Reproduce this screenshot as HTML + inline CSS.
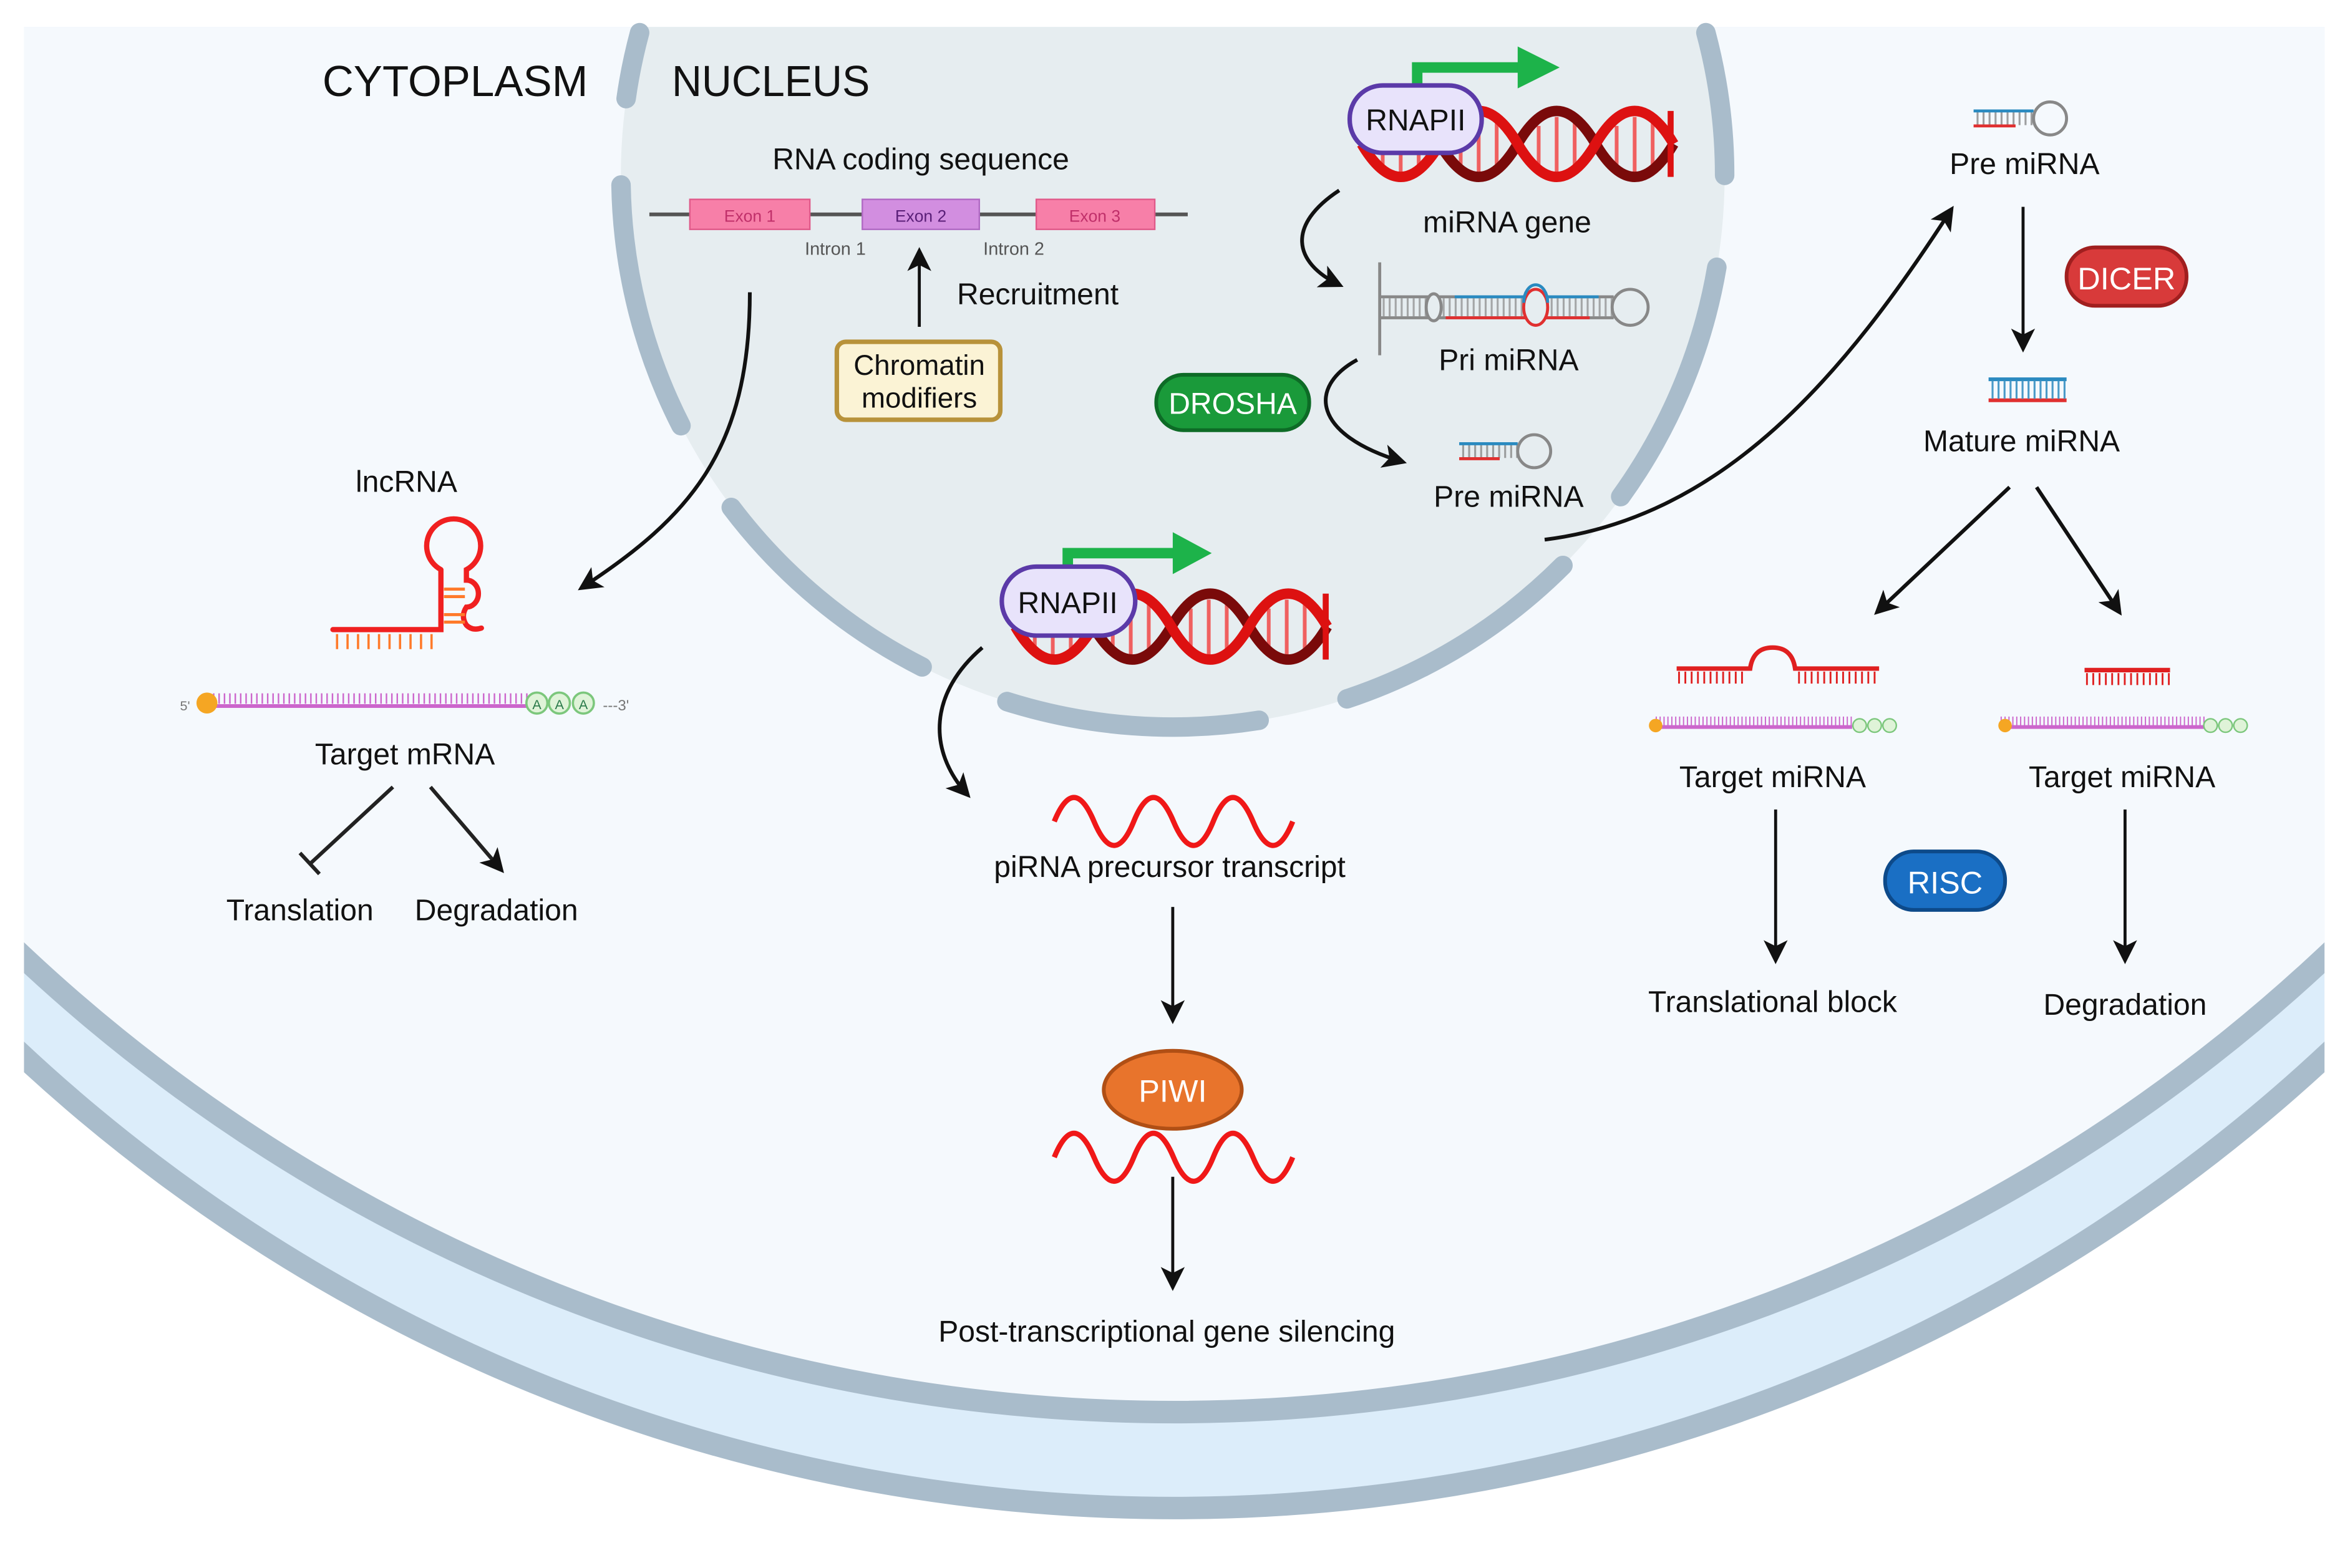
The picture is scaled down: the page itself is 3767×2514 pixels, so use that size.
<!DOCTYPE html>
<html><head><meta charset="utf-8"><style>
html,body{margin:0;padding:0;background:#fff;}
svg{display:block;}
text{font-family:"Liberation Sans",sans-serif;fill:#111;}
</style></head><body>
<svg width="3767" height="2514" viewBox="0 0 1567 1046" preserveAspectRatio="none" xmlns="http://www.w3.org/2000/svg">
<defs>
<clipPath id="cell"><rect x="16" y="18" width="1534" height="1030"/></clipPath>
<marker id="ah" viewBox="0 0 10 10" refX="8" refY="5" markerWidth="16" markerHeight="16" markerUnits="userSpaceOnUse" orient="auto"><path d="M0,0 L10,5 L0,10 L2.5,5 Z" fill="#111"/></marker>
</defs>
<rect width="1567" height="1046" fill="#fff"/>
<g clip-path="url(#cell)">
 <circle cx="783" cy="-122" r="1128" fill="#dcedfa" stroke="#a9bccb" stroke-width="15"/>
 <circle cx="783" cy="-180" r="1122" fill="#f5f9fd" stroke="#a9bccb" stroke-width="15"/>
 <circle cx="782" cy="117" r="368" fill="#e6edf0"/>
</g>
<g fill="none" stroke="#a9bccb" stroke-width="13" stroke-linecap="round">
 <path d="M417.5,65.8 A368,368 0 0 1 426.5,21.8"/>
 <path d="M414.1,123.4 A368,368 0 0 0 454.1,284"/>
 <path d="M487.6,338.5 A368,368 0 0 0 614.9,444.9"/>
 <path d="M671.4,468 A368,368 0 0 0 839.6,480.5"/>
 <path d="M898.2,466.2 A368,368 0 0 0 1042.2,377.2"/>
 <path d="M1080.7,331.3 A368,368 0 0 0 1144.8,178.3"/>
 <path d="M1137.5,21.8 A368,368 0 0 1 1150,117"/>
</g>

<text x="215" y="64" font-size="29" textLength="177" lengthAdjust="spacingAndGlyphs">CYTOPLASM</text>
<text x="448" y="64" font-size="29" textLength="132" lengthAdjust="spacingAndGlyphs">NUCLEUS</text>

<text x="614" y="113" font-size="20" text-anchor="middle">RNA coding sequence</text>
<line x1="433" y1="143" x2="792" y2="143" stroke="#555" stroke-width="2.5"/>
<rect x="460" y="133" width="80" height="20" fill="#f77fa8" stroke="#e05a8a"/>
<rect x="575" y="133" width="78" height="20" fill="#d28ee0" stroke="#b06ac4"/>
<rect x="691" y="133" width="79" height="20" fill="#f77fa8" stroke="#e05a8a"/>
<text x="500" y="148" font-size="11" text-anchor="middle" style="fill:#c0306a">Exon 1</text>
<text x="614" y="148" font-size="11" text-anchor="middle" style="fill:#5a1f78">Exon 2</text>
<text x="730" y="148" font-size="11" text-anchor="middle" style="fill:#c0306a">Exon 3</text>
<text x="557" y="170" font-size="12" text-anchor="middle" style="fill:#555">Intron 1</text>
<text x="676" y="170" font-size="12" text-anchor="middle" style="fill:#555">Intron 2</text>
<line x1="613" y1="218" x2="613" y2="168" stroke="#111" stroke-width="2" marker-end="url(#ah)"/>
<text x="692" y="203" font-size="20" text-anchor="middle">Recruitment</text>
<rect x="558" y="228" width="109" height="52" rx="6" fill="#fbf3d5" stroke="#b8923a" stroke-width="3"/>
<text x="613" y="250" font-size="19" text-anchor="middle">Chromatin</text>
<text x="613" y="272" font-size="19" text-anchor="middle">modifiers</text>

<!-- top DNA -->
<g fill="none">
 <g stroke="#f06060" stroke-width="2.5">
  <line x1="922" y1="84" x2="922" y2="110"/><line x1="934" y1="78" x2="934" y2="116"/><line x1="946" y1="78" x2="946" y2="116"/>
  <line x1="974" y1="84" x2="974" y2="110"/><line x1="986" y1="78" x2="986" y2="116"/><line x1="998" y1="78" x2="998" y2="116"/>
  <line x1="1026" y1="84" x2="1026" y2="110"/><line x1="1038" y1="78" x2="1038" y2="116"/><line x1="1050" y1="78" x2="1050" y2="116"/>
  <line x1="1078" y1="84" x2="1078" y2="110"/><line x1="1090" y1="78" x2="1090" y2="116"/><line x1="1102" y1="78" x2="1102" y2="116"/>
 </g>
 <path d="M908,96 q26,-44 52,0 t52,0 t52,0 t52,0" stroke="#7a0a0a" stroke-width="7"/>
 <path d="M908,96 q26,44 52,0 t52,0 t52,0 t52,0" stroke="#dd1111" stroke-width="7"/>
 <line x1="1114" y1="74" x2="1114" y2="118" stroke="#dd1111" stroke-width="4"/>
</g>
<path d="M945,78 V45 H1015" fill="none" stroke="#1db34a" stroke-width="7"/>
<path d="M1012,31 L1040,45 L1012,59 Z" fill="#1db34a"/>
<rect x="900" y="57" width="88" height="45" rx="22" fill="#e8e3fb" stroke="#5b3aa8" stroke-width="3"/>
<text x="944" y="87" font-size="20" text-anchor="middle">RNAPII</text>
<text x="1005" y="155" font-size="20" text-anchor="middle">miRNA gene</text>
<path d="M893,127 C858,150 862,175 893,190" fill="none" stroke="#111" stroke-width="2.5" marker-end="url(#ah)"/>

<line x1="920" y1="175" x2="920" y2="237" stroke="#888" stroke-width="2"/>
<g fill="none" stroke-width="2">
 <line x1="920" y1="198" x2="1076" y2="198" stroke="#888"/>
 <line x1="920" y1="212" x2="1076" y2="212" stroke="#888"/>
 <line x1="964" y1="198" x2="1076" y2="198" stroke="#2a8ac0" stroke-dasharray="0 6 52 8 36 100"/>
 <line x1="964" y1="212" x2="1060" y2="212" stroke="#e03030"/>
 <line x1="922" y1="205" x2="1076" y2="205" stroke="#888" stroke-width="12" stroke-dasharray="1.3 2.7" opacity="0.7"/>
 <ellipse cx="956" cy="205" rx="5" ry="9" stroke="#888" fill="#e6edf0"/>
 <ellipse cx="1024" cy="205" rx="8" ry="12" stroke="#e03030" fill="#e6edf0"/>
 <path d="M1016,202 a8,12 0 0 1 16,0" stroke="#2a8ac0"/>
 <circle cx="1087" cy="205" r="12" stroke="#888" fill="#e6edf0"/>
</g>
<text x="1006" y="247" font-size="20" text-anchor="middle">Pri miRNA</text>
<rect x="771" y="250" width="102" height="37" rx="18" fill="#1a9a3a" stroke="#0d6b26" stroke-width="2.5"/>
<text x="822" y="276" font-size="20" text-anchor="middle" style="fill:#fff">DROSHA</text>
<path d="M905,240 C872,258 875,290 935,308" fill="none" stroke="#111" stroke-width="2.5" marker-end="url(#ah)"/>
<g fill="none" stroke-width="2">
 <line x1="975" y1="301" x2="1012" y2="301" stroke="#888" stroke-width="9" stroke-dasharray="1.3 2.7" opacity="0.8"/>
 <line x1="973" y1="296" x2="1012" y2="296" stroke="#2a8ac0"/>
 <line x1="973" y1="306" x2="1000" y2="306" stroke="#e03030"/>
 <circle cx="1023" cy="301" r="11" stroke="#888" fill="#e6edf0"/>
</g>
<text x="1006" y="338" font-size="20" text-anchor="middle">Pre miRNA</text>
<path d="M1030,360 C1150,345 1230,250 1301,140" fill="none" stroke="#111" stroke-width="2.5" marker-end="url(#ah)"/>

<g fill="none" stroke-width="2">
 <line x1="1318" y1="79" x2="1356" y2="79" stroke="#888" stroke-width="9" stroke-dasharray="1.3 2.7" opacity="0.8"/>
 <line x1="1316" y1="74" x2="1356" y2="74" stroke="#2a8ac0"/>
 <line x1="1316" y1="84" x2="1344" y2="84" stroke="#e03030"/>
 <circle cx="1367" cy="79" r="11" stroke="#888" fill="#f5f9fd"/>
</g>
<text x="1350" y="116" font-size="20" text-anchor="middle">Pre miRNA</text>
<line x1="1349" y1="138" x2="1349" y2="232" stroke="#111" stroke-width="2" marker-end="url(#ah)"/>
<rect x="1378" y="165" width="80" height="39" rx="19" fill="#d83a3a" stroke="#a01f1f" stroke-width="2.5"/>
<text x="1418" y="193" font-size="21" text-anchor="middle" style="fill:#fff">DICER</text>
<g stroke-width="2.5">
 <line x1="1326" y1="253" x2="1378" y2="253" stroke="#2a8ac0"/>
 <line x1="1326" y1="267" x2="1378" y2="267" stroke="#e03030"/>
 <line x1="1328" y1="260" x2="1378" y2="260" stroke="#4a9ac8" stroke-width="12" stroke-dasharray="1.3 2.7"/>
</g>
<text x="1348" y="301" font-size="20" text-anchor="middle">Mature miRNA</text>
<line x1="1340" y1="325" x2="1252" y2="408" stroke="#111" stroke-width="2.5" marker-end="url(#ah)"/>
<line x1="1358" y1="325" x2="1413" y2="408" stroke="#111" stroke-width="2.5" marker-end="url(#ah)"/>

<g fill="none" stroke="#e02020">
 <path d="M1118,446 H1167 q2,-14 15,-14 q13,0 15,14 H1253" stroke-width="3"/>
 <line x1="1119" y1="452" x2="1165" y2="452" stroke-width="8" stroke-dasharray="1.2 3"/>
 <line x1="1199" y1="452" x2="1253" y2="452" stroke-width="8" stroke-dasharray="1.2 3"/>
 <line x1="1390" y1="447" x2="1447" y2="447" stroke-width="3"/>
 <line x1="1391" y1="453" x2="1447" y2="453" stroke-width="8" stroke-dasharray="1.2 3"/>
</g>
<g>
 <line x1="1104" y1="485" x2="1235" y2="485" stroke="#cc66cc" stroke-width="2.5"/>
 <line x1="1104" y1="481" x2="1235" y2="481" stroke="#cc66cc" stroke-width="6" stroke-dasharray="0.8 1.8"/>
 <circle cx="1104" cy="484" r="4.5" fill="#f5a623"/>
 <circle cx="1240" cy="484" r="4.5" fill="#dff3d8" stroke="#7cc77c"/><circle cx="1250" cy="484" r="4.5" fill="#dff3d8" stroke="#7cc77c"/><circle cx="1260" cy="484" r="4.5" fill="#dff3d8" stroke="#7cc77c"/>
 <line x1="1334" y1="485" x2="1470" y2="485" stroke="#cc66cc" stroke-width="2.5"/>
 <line x1="1334" y1="481" x2="1470" y2="481" stroke="#cc66cc" stroke-width="6" stroke-dasharray="0.8 1.8"/>
 <circle cx="1337" cy="484" r="4.5" fill="#f5a623"/>
 <circle cx="1474" cy="484" r="4.5" fill="#dff3d8" stroke="#7cc77c"/><circle cx="1484" cy="484" r="4.5" fill="#dff3d8" stroke="#7cc77c"/><circle cx="1494" cy="484" r="4.5" fill="#dff3d8" stroke="#7cc77c"/>
</g>
<text x="1182" y="525" font-size="20" text-anchor="middle">Target miRNA</text>
<text x="1415" y="525" font-size="20" text-anchor="middle">Target miRNA</text>
<line x1="1184" y1="540" x2="1184" y2="640" stroke="#111" stroke-width="2" marker-end="url(#ah)"/>
<line x1="1417" y1="540" x2="1417" y2="640" stroke="#111" stroke-width="2" marker-end="url(#ah)"/>
<rect x="1257" y="568" width="80" height="39" rx="19" fill="#1a6fc4" stroke="#0d4a8a" stroke-width="2.5"/>
<text x="1297" y="596" font-size="21" text-anchor="middle" style="fill:#fff">RISC</text>
<text x="1182" y="675" font-size="20" text-anchor="middle">Translational block</text>
<text x="1417" y="677" font-size="20" text-anchor="middle">Degradation</text>

<path d="M500,195 C500,300 460,345 388,392" fill="none" stroke="#111" stroke-width="2.5" marker-end="url(#ah)"/>
<text x="271" y="328" font-size="20" text-anchor="middle">lncRNA</text>
<g fill="none" stroke="#f02020" stroke-width="3.5" stroke-linecap="round">
 <path d="M222,420 H294 V380 M294,380 a18,18 0 1 1 17,0 V387 a8,9 0 0 1 0,18 q-4,6 0,12 q4,4 10,2"/>
</g>
<g stroke="#ff7a2a" stroke-width="2">
 <line x1="296" y1="393" x2="310" y2="393"/><line x1="296" y1="398" x2="310" y2="398"/>
 <line x1="296" y1="410" x2="310" y2="410"/><line x1="296" y1="415" x2="310" y2="415"/>
 <line x1="224" y1="428" x2="290" y2="428" stroke-width="10" stroke-dasharray="1.5 5.5"/>
</g>
<text x="120" y="474" font-size="9" style="fill:#777">5'</text>
<line x1="142" y1="471" x2="354" y2="471" stroke="#cc66cc" stroke-width="2.5"/>
<line x1="142" y1="466" x2="354" y2="466" stroke="#cc66cc" stroke-width="7" stroke-dasharray="1 2.6"/>
<circle cx="138" cy="469" r="7" fill="#f5a623"/>
<circle cx="358" cy="469" r="7" fill="#dff3d8" stroke="#7cc77c" stroke-width="1.5"/>
<circle cx="373" cy="469" r="7" fill="#dff3d8" stroke="#7cc77c" stroke-width="1.5"/>
<circle cx="389" cy="469" r="7" fill="#dff3d8" stroke="#7cc77c" stroke-width="1.5"/>
<text x="358" y="473" font-size="9" text-anchor="middle" style="fill:#2a7a4a">A</text>
<text x="373" y="473" font-size="9" text-anchor="middle" style="fill:#2a7a4a">A</text>
<text x="389" y="473" font-size="9" text-anchor="middle" style="fill:#2a7a4a">A</text>
<text x="402" y="474" font-size="10" style="fill:#777">---3'</text>
<text x="270" y="510" font-size="20" text-anchor="middle">Target mRNA</text>
<line x1="262" y1="525" x2="207" y2="576" stroke="#222" stroke-width="2.5"/>
<line x1="200" y1="569" x2="213" y2="583" stroke="#222" stroke-width="2.5"/>
<line x1="287" y1="525" x2="334" y2="580" stroke="#222" stroke-width="2.5" marker-end="url(#ah)"/>
<text x="200" y="614" font-size="20" text-anchor="middle">Translation</text>
<text x="331" y="614" font-size="20" text-anchor="middle">Degradation</text>

<!-- lower DNA -->
<g fill="none">
 <g stroke="#f06060" stroke-width="2.5">
  <line x1="690" y1="406" x2="690" y2="432"/><line x1="702" y1="400" x2="702" y2="438"/><line x1="714" y1="400" x2="714" y2="438"/>
  <line x1="742" y1="406" x2="742" y2="432"/><line x1="754" y1="400" x2="754" y2="438"/><line x1="766" y1="400" x2="766" y2="438"/>
  <line x1="794" y1="406" x2="794" y2="432"/><line x1="806" y1="400" x2="806" y2="438"/><line x1="818" y1="400" x2="818" y2="438"/>
  <line x1="846" y1="406" x2="846" y2="432"/><line x1="858" y1="400" x2="858" y2="438"/><line x1="870" y1="400" x2="870" y2="438"/>
 </g>
 <path d="M677,418 q26,-44 52,0 t52,0 t52,0 t52,0" stroke="#7a0a0a" stroke-width="7"/>
 <path d="M677,418 q26,44 52,0 t52,0 t52,0 t52,0" stroke="#dd1111" stroke-width="7"/>
 <line x1="884" y1="396" x2="884" y2="440" stroke="#dd1111" stroke-width="4"/>
</g>
<path d="M712,392 V369 H785" fill="none" stroke="#1db34a" stroke-width="7"/>
<path d="M782,355 L808,369 L782,383 Z" fill="#1db34a"/>
<rect x="668" y="378" width="89" height="46" rx="23" fill="#e8e3fb" stroke="#5b3aa8" stroke-width="3"/>
<text x="712" y="409" font-size="20" text-anchor="middle">RNAPII</text>
<path d="M655,432 C620,462 618,500 645,530" fill="none" stroke="#111" stroke-width="2.5" marker-end="url(#ah)"/>

<path d="M703,548 q13,-32 26.5,0 t26.5,0 t26.5,0 t26.5,0 t26.5,0 t26.5,0" fill="none" stroke="#f01818" stroke-width="3.5"/>
<text x="780" y="585" font-size="20" text-anchor="middle">piRNA precursor transcript</text>
<line x1="782" y1="605" x2="782" y2="680" stroke="#111" stroke-width="2" marker-end="url(#ah)"/>
<path d="M703,772 q13,-32 26.5,0 t26.5,0 t26.5,0 t26.5,0 t26.5,0 t26.5,0" fill="none" stroke="#f01818" stroke-width="3.5"/>
<ellipse cx="782" cy="727" rx="46" ry="26" fill="#e8742c" stroke="#b04f15" stroke-width="2.5"/>
<text x="782" y="735" font-size="21" text-anchor="middle" style="fill:#fff">PIWI</text>
<line x1="782" y1="785" x2="782" y2="858" stroke="#111" stroke-width="2" marker-end="url(#ah)"/>
<text x="778" y="895" font-size="20" text-anchor="middle">Post-transcriptional gene silencing</text>
</svg>
</body></html>
